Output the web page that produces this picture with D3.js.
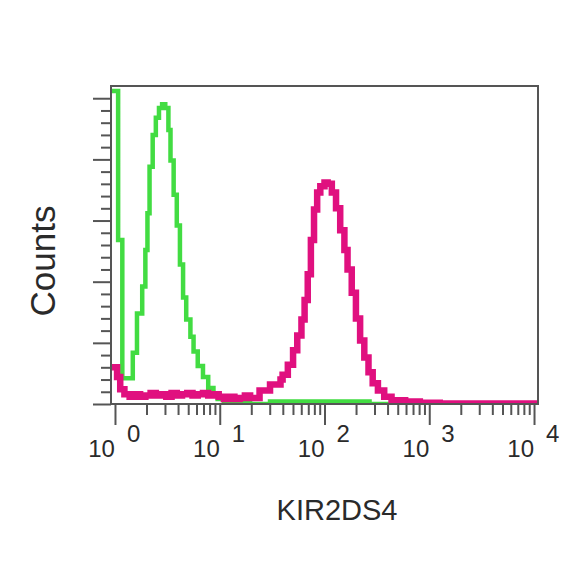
<!DOCTYPE html>
<html>
<head>
<meta charset="utf-8">
<script src="https://cdn.jsdelivr.net/npm/d3@7/dist/d3.min.js"></script>
<style>
  html, body { margin: 0; padding: 0; background: #fff; }
  svg { display: block; }
</style>
</head>
<body>
<svg id="chart" width="584" height="584"></svg>
<script>
// ---- data (channel position in decades, counts) ----
const xExponents = [0, 1, 2, 3, 4];
const yMajorTicks = [0, 50, 100, 150, 200, 250];
const xLabel = "KIR2DS4";
const yLabel = "Counts";

// green histogram (control)
const greenLog = [-0.04, 0.03, 0.07, 0.17, 0.21, 0.26, 0.29, 0.31, 0.33, 0.36, 0.39, 0.42, 0.45, 0.48, 0.51, 0.53, 0.56, 0.59, 0.62, 0.65, 0.68, 0.72, 0.75, 0.79, 0.84, 0.89, 0.94, 0.98, 1.04, 1.10, 1.19, 1.29, 1.48, 2.43, 4.04];
const greenCount = [256, 134, 21, 42, 74, 96, 126, 156, 194, 220, 234, 242, 245, 242, 224, 199, 171, 146, 114, 87, 69, 55, 43, 31, 22, 13, 7, 4, 2, 1, 1, 0, 2, 0, 0];

// magenta histogram (KIR2DS4)
const magentaLog = [-0.04, 0.02, 0.05, 0.09, 0.14, 0.19, 0.24, 0.29, 0.34, 0.39, 0.44, 0.49, 0.54, 0.59, 0.64, 0.69, 0.74, 0.79, 0.84, 0.89, 0.94, 0.99, 1.04, 1.09, 1.14, 1.19, 1.24, 1.29, 1.38, 1.48, 1.58, 1.60, 1.65, 1.70, 1.74, 1.78, 1.81, 1.84, 1.87, 1.90, 1.93, 1.96, 2.00, 2.03, 2.07, 2.11, 2.15, 2.19, 2.22, 2.26, 2.30, 2.34, 2.38, 2.42, 2.46, 2.51, 2.57, 2.64, 2.77, 2.91, 3.10, 4.04];
const magentaCount = [30, 22, 12, 8, 6, 8, 6, 7, 9, 7, 8, 6, 9, 7, 8, 9, 7, 8, 9, 7, 8, 6, 4, 6, 4, 5, 7, 5, 11, 16, 20, 24, 32, 44, 56, 69, 85, 106, 134, 159, 173, 178, 181, 180, 173, 160, 142, 126, 110, 91, 70, 52, 38, 26, 17, 11, 6, 3, 2, 1, 0.5, 0.5];

// ---- layout ----
const svg = d3.select("#chart");
const pL = 111, pR = 538, pT = 86, pB = 404;
const fontFam = "'Liberation Sans', Arial, sans-serif";
const textColor = "#2a2a2a";

const x = d3.scaleLog()
  .domain([Math.pow(10, -0.038), Math.pow(10, 4.038)])
  .range([pL, pR]);
const y = d3.scaleLinear().domain([0, 260]).range([pB, pT]);

svg.append("defs").append("clipPath").attr("id", "plotclip")
  .append("rect").attr("x", pL).attr("y", pT - 1)
  .attr("width", pR - pL).attr("height", pB - pT + 2);

const line = d3.line()
  .x(d => x(Math.pow(10, d[0])))
  .y(d => y(d[1]))
  .curve(d3.curveStepAfter);

const plot = svg.append("g").attr("clip-path", "url(#plotclip)");
plot.append("path")
  .datum(greenLog.map((v, i) => [v, greenCount[i]]))
  .attr("d", line)
  .attr("fill", "none")
  .attr("stroke", "#42dc42")
  .attr("stroke-width", 4.5)
  .attr("stroke-linejoin", "miter");
plot.append("path")
  .datum(magentaLog.map((v, i) => [v, magentaCount[i]]))
  .attr("d", line)
  .attr("fill", "none")
  .attr("stroke", "#e0107f")
  .attr("stroke-width", 6.5)
  .attr("stroke-linejoin", "miter");

// frame
svg.append("rect")
  .attr("x", pL).attr("y", pT)
  .attr("width", pR - pL).attr("height", pB - pT)
  .attr("fill", "none").attr("stroke", "#555").attr("stroke-width", 2);

// x axis ticks
const majorX = xExponents.map(e => Math.pow(10, e));
const minorX = [];
xExponents.slice(0, -1).forEach(e => {
  for (let k = 2; k <= 9; k++) minorX.push(k * Math.pow(10, e));
});
const gx = svg.append("g").attr("transform", `translate(0,${pB + 1})`);
gx.append("g").call(d3.axisBottom(x).tickValues(minorX).tickSize(10).tickFormat(""))
  .call(g => g.select(".domain").remove());
gx.append("g").call(d3.axisBottom(x).tickValues(majorX).tickSize(20).tickFormat(""))
  .call(g => g.select(".domain").remove());
gx.selectAll(".tick line").attr("stroke", "#555").attr("stroke-width", 2);

// x tick labels: 10 with raised exponent
const lab = svg.append("g");
xExponents.forEach(e => {
  const px = x(Math.pow(10, e));
  lab.append("text")
    .attr("x", px).attr("y", 457)
    .attr("text-anchor", "end")
    .attr("font-family", fontFam).attr("font-size", 24)
    .attr("fill", textColor)
    .text("10");
  lab.append("text")
    .attr("x", px + 12).attr("y", 442)
    .attr("text-anchor", "start")
    .attr("font-family", fontFam).attr("font-size", 24)
    .attr("fill", textColor)
    .text(String(e));
});

// y axis ticks
const minorY = d3.range(0, 260, 10).filter(v => !yMajorTicks.includes(v));
const gy = svg.append("g").attr("transform", `translate(${pL},0)`);
gy.append("g").call(d3.axisLeft(y).tickValues(minorY).tickSize(10).tickFormat(""))
  .call(g => g.select(".domain").remove());
gy.append("g").call(d3.axisLeft(y).tickValues(yMajorTicks).tickSize(18).tickFormat(""))
  .call(g => g.select(".domain").remove());
gy.selectAll(".tick line").attr("stroke", "#555").attr("stroke-width", 2);

// axis titles
svg.append("text")
  .attr("x", 337).attr("y", 520)
  .attr("text-anchor", "middle")
  .attr("font-family", fontFam).attr("font-size", 29)
  .attr("fill", textColor)
  .text(xLabel);
svg.append("text")
  .attr("transform", "translate(55,261) rotate(-90)")
  .attr("text-anchor", "middle")
  .attr("font-family", fontFam).attr("font-size", 35)
  .attr("fill", textColor)
  .text(yLabel);
</script>
</body>
</html>
